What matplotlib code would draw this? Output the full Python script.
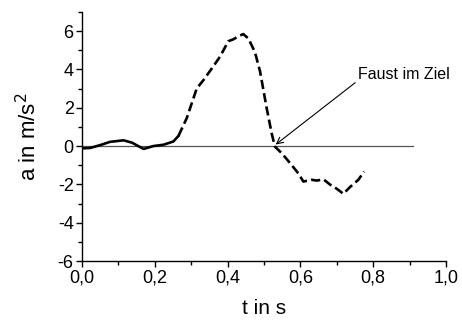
import matplotlib.pyplot as plt
from matplotlib.ticker import FixedLocator, MultipleLocator, FuncFormatter

plt.rcParams['font.family'] = ['Liberation Sans', 'DejaVu Sans']

# acceleration of the fist over time
t = [0.0, 0.022, 0.05, 0.077, 0.114, 0.137, 0.169, 0.196, 0.224, 0.251,
     0.265, 0.288, 0.315, 0.334, 0.36, 0.379, 0.402, 0.416, 0.43, 0.443,
     0.457, 0.475, 0.489, 0.507, 0.521, 0.53, 0.549, 0.572, 0.594, 0.608,
     0.631, 0.645, 0.663, 0.682, 0.70, 0.718, 0.736, 0.759, 0.775]
a = [-0.12, -0.1, 0.05, 0.22, 0.3, 0.18, -0.15, 0.0, 0.07, 0.24,
     0.53, 1.47, 3.0, 3.45, 4.14, 4.66, 5.47, 5.57, 5.73, 5.84,
     5.61, 4.9, 3.9, 2.0, 0.66, -0.03, -0.38, -0.9, -1.42, -1.85,
     -1.76, -1.8, -1.73, -2.02, -2.23, -2.49, -2.14, -1.76, -1.33]
n_solid = 11  # first part looks like a solid line

fig = plt.figure(figsize=(4.62, 3.2), dpi=100)
ax = fig.add_axes([0.1775, 0.184, 0.788, 0.779])

ax.plot([0, 0.908], [0, 0], color='#555555', lw=0.9)
ax.plot(t[:n_solid], a[:n_solid], color='black', lw=1.9)
ax.plot(t[n_solid - 1:], a[n_solid - 1:], color='black', lw=1.9,
        dashes=(3.5, 1.6))

ax.annotate('Faust im Ziel', xy=(0.532, 0.08), xytext=(0.758, 3.73),
            fontsize=11.5, va='center', ha='left',
            arrowprops=dict(arrowstyle='->', color='black', lw=0.8,
                            shrinkA=0, shrinkB=0, relpos=(0, 0.1)))

ax.set_xlim(0, 1.0)
ax.set_ylim(-6, 7)
ax.xaxis.set_major_locator(MultipleLocator(0.2))
ax.xaxis.set_minor_locator(MultipleLocator(0.1))
ax.yaxis.set_major_locator(FixedLocator([-6, -4, -2, 0, 2, 4, 6]))
ax.yaxis.set_minor_locator(FixedLocator([-5, -3, -1, 1, 3, 5, 7]))
ax.xaxis.set_major_formatter(FuncFormatter(lambda v, p: f"{v:.1f}".replace('.', ',')))
ax.yaxis.set_major_formatter(FuncFormatter(lambda v, p: f"{v:.0f}"))

for s in ['top', 'right']:
    ax.spines[s].set_visible(False)
for s in ['left', 'bottom']:
    ax.spines[s].set_linewidth(1.0)

ax.tick_params(which='major', direction='out', length=4, width=1, labelsize=13, pad=2)
ax.tick_params(which='minor', direction='out', length=3, width=1)

ax.set_xlabel('t in s', fontsize=15, labelpad=9)
ax.set_ylabel('a in m/s$^2$', fontsize=16, labelpad=12)

plt.savefig('out.png', dpi=100)
plt.close()
